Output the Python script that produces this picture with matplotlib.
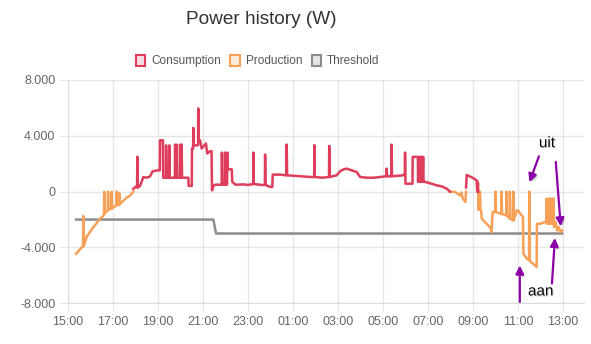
import numpy as np
import matplotlib
matplotlib.use("Agg")
import matplotlib.pyplot as plt
from matplotlib.patches import Patch
import matplotlib.patheffects as pe
from matplotlib.ticker import FixedLocator

plt.rcParams['font.family'] = ['Liberation Sans', 'DejaVu Sans']

# ---- data (time in hours; values >24 are the next day) ----
cons_t = [17.90, 18.02, 18.07, 18.08, 18.10, 18.20, 18.35, 18.47, 18.64, 18.76, 19.00, 19.08,
          19.09, 19.22, 19.23, 19.35, 19.36, 19.38, 19.49, 19.50, 19.52, 19.75, 19.76, 19.78,
          19.82, 19.83, 19.85, 19.97, 19.98, 20.00, 20.04, 20.05, 20.07, 20.35, 20.36, 20.50,
          20.51, 20.56, 20.57, 20.59, 20.68, 20.78, 20.79, 20.81, 20.87, 20.94, 21.13, 21.19,
          21.31, 21.38, 21.40, 21.46, 21.55, 21.83, 21.84, 21.86, 21.97, 21.98, 22.00, 22.07,
          22.08, 22.10, 22.28, 22.30, 22.45, 22.80, 23.00, 23.23, 23.24, 23.26, 23.60, 23.75,
          23.76, 23.78, 23.98, 24.08, 24.10, 24.42, 24.70, 24.72, 24.74, 25.20, 25.76, 25.94,
          25.95, 25.97, 26.30, 26.60, 26.61, 26.63, 26.94, 27.09, 27.25, 27.39, 27.60, 27.83,
          27.98, 28.28, 28.60, 28.87, 29.14, 29.16, 29.18, 29.37, 29.38, 29.40, 29.89, 29.97,
          29.98, 30.00, 30.31, 30.32, 30.55, 30.56, 30.58, 30.60, 30.62, 30.64, 30.66, 30.68,
          30.70, 30.72, 30.74, 30.76, 30.78, 30.79, 30.80, 30.87, 31.10, 31.39, 31.60, 31.83,
          31.98,
          None,
          32.69, 32.72, 33.00, 33.16, 33.19, 33.20, 33.21, 33.22, 33.23]
cons_v = [200, 360, 300, 2500, 300, 400, 1050, 1000, 1080, 1460, 1530, 1530,
          3680, 3680, 1000, 1000, 3320, 1000, 1000, 3320, 1000, 1000, 3370, 1000,
          1000, 3370, 1000, 1000, 3370, 1000, 1000, 3370, 1000, 1000, 410, 410,
          3090, 3090, 4570, 3320, 3320, 3320, 5960, 3680, 3680, 3090, 3450, 2730,
          2900, 2900, 90, 410, 500, 500, 2800, 500, 500, 2800, 500, 500,
          2800, 1600, 1600, 700, 500, 520, 480, 550, 2800, 550, 480, 480,
          2660, 480, 340, 340, 1220, 1220, 1170, 3370, 1170, 1120, 1050, 1050,
          3330, 1050, 1000, 1050, 3280, 1050, 1170, 1460, 1600, 1650, 1530, 1410,
          1050, 1000, 1000, 1050, 1100, 1650, 1100, 1100, 3370, 1100, 1170, 1290,
          2800, 570, 570, 2490, 2490, 700, 2490, 700, 2490, 700, 2490, 700,
          2490, 700, 2490, 700, 2490, 2490, 700, 700, 600, 450, 380, 215,
          0,
          None,
          300, 1200, 980, 810, 0, 700, 0, 600, 0]

prod_t = [15.36, 15.55, 15.67, 15.68, 15.70, 15.83, 16.10, 16.40, 16.57, 16.60, 16.61, 16.63,
          16.77, 16.78, 16.80, 16.93, 16.94, 16.96, 17.15, 17.16, 17.18, 17.27, 17.28, 17.30,
          17.60, 17.75, 17.90,
          None,
          31.98, 32.20, 32.42, 32.48, 32.55, 32.66, 32.69,
          None,
          33.23, 33.25, 33.27, 33.29, 33.31, 33.33, 33.36, 33.39, 33.53, 33.76, 33.80, 33.83,
          33.87, 33.99, 34.00, 34.02, 34.26, 34.27, 34.29, 34.48, 34.49, 34.51, 34.63, 34.64,
          34.66, 34.78, 34.79, 34.81, 34.95, 35.00, 35.16, 35.22, 35.24, 35.39, 35.49, 35.50,
          35.52, 35.83, 35.84, 35.98, 36.20, 36.26, 36.27, 36.29, 36.36, 36.37, 36.40, 36.43,
          36.46, 36.49, 36.52, 36.55, 36.58, 36.60, 36.67, 36.74, 36.81, 36.89, 36.96]
prod_v = [-4450, -4100, -3900, -1750, -3900, -3230, -2600, -2000, -1720, -1650, 0, -1550,
          -1340, 0, -1300, -1220, 0, -1200, -980, 0, -980, -930, -100, -900,
          -430, -300, 0,
          None,
          0, -20, -270, -60, -500, -740, 0,
          None,
          0, -1300, 0, -1300, 0, -1340, -1340, -1940, -2180, -2540, -2700, -2900,
          -1460, -1460, 0, -1460, -1600, 0, -1600, -1700, 0, -1700, -1940, 0,
          -1940, -2060, 0, -2060, -1340, -1340, -1700, -1800, -4450, -4810, -4900, 0,
          -4950, -5400, -2300, -2300, -2180, -2180, -500, -2300, -2300, -500, -2300, -500,
          -2300, -500, -2300, -500, -500, -2540, -2180, -2780, -2540, -2900, -2780]

thr_t = [15.36, 21.46, 21.58, 36.96]
thr_v = [-2000, -2000, -3000, -3000]

xtick_hours = [15, 17, 19, 21, 23, 25, 27, 29, 31, 33, 35, 37]
xtick_labels = ["15:00", "17:00", "19:00", "21:00", "23:00", "01:00", "03:00",
                "05:00", "07:00", "09:00", "11:00", "13:00"]
ytick_vals = [-8000, -4000, 0, 4000, 8000]
ytick_labels = ["-8.000", "-4.000", "0", "4.000", "8.000"]

series_names = ["Consumption", "Production", "Threshold"]
C_CONS = "#de3d5c"
C_PROD = "#f7a057"
C_THR = "#8c8c8c"


def arr(a):
    return np.array([np.nan if v is None else v for v in a], dtype=float)


fig = plt.figure(figsize=(5.91, 3.44), dpi=100)
ax = fig.add_axes([68 / 591, 1 - 303.3 / 344, (584 - 68) / 591, (303.3 - 80) / 344])

ax.plot(arr(thr_t), arr(thr_v), color=C_THR, lw=1.8)
ax.plot(arr(prod_t), arr(prod_v), color=C_PROD, lw=1.8)
ax.plot(arr(cons_t), arr(cons_v), color=C_CONS, lw=1.8)

ax.set_xlim(15, 15 + (584 - 68) / 22.5)
ax.set_ylim(-8000, 8000)
ax.xaxis.set_major_locator(FixedLocator(xtick_hours))
ax.set_xticklabels(xtick_labels)
ax.yaxis.set_major_locator(FixedLocator(ytick_vals))
ax.set_yticklabels(ytick_labels)
grid_c = "#e6e6e6"
ax.grid(True, color=grid_c, lw=1)
ax.set_axisbelow(True)
for s in ["top", "right"]:
    ax.spines[s].set_visible(False)
for s in ["left", "bottom"]:
    ax.spines[s].set_color("#dcdcdc")
ax.tick_params(axis='both', length=6, color=grid_c, labelsize=9, labelcolor="#666666", pad=3)

fig.text(261.5 / 591, 1 - 20 / 344, "Power history (W)", ha='center', va='center',
         fontsize=13.7, color="#333333")

handles = [Patch(facecolor="#fbdde3", edgecolor=C_CONS, lw=1.5),
           Patch(facecolor="#fdecdc", edgecolor=C_PROD, lw=1.5),
           Patch(facecolor="#e6e6e6", edgecolor=C_THR, lw=1.5)]
fig.legend(handles, series_names, loc='center', bbox_to_anchor=(257.5 / 591, 1 - 61 / 344),
           ncol=3, frameon=False, fontsize=8.5, handlelength=0.8, handleheight=1.1,
           handletextpad=0.5, columnspacing=0.8, labelcolor="#555555")

# annotations
PURPLE = "#8c00a8"
shadow = [pe.withSimplePatchShadow(offset=(1.5, -1.5), shadow_rgbFace='#999999', alpha=0.5)]
aprops = dict(arrowstyle='-|>', color=PURPLE, lw=1.6, mutation_scale=12,
              shrinkA=0, shrinkB=0, path_effects=shadow)
ax.annotate("", xy=(35.51, 667), xytext=(35.93, 2533), arrowprops=aprops)
ax.annotate("", xy=(36.90, -2490), xytext=(36.68, 2124), arrowprops=aprops)
ax.annotate("", xy=(35.08, -5290), xytext=(35.08, -7900), arrowprops=aprops, annotation_clip=False)
ax.annotate("", xy=(36.64, -3315), xytext=(36.51, -6580), arrowprops=aprops)
t1 = ax.text(36.29, 3466, "uit", ha='center', va='center', fontsize=11, color='black')
t2 = ax.text(36.01, -7153, "aan", ha='center', va='center', fontsize=11, color='black')
for t in (t1, t2):
    t.set_path_effects([pe.withSimplePatchShadow(offset=(1, -1), shadow_rgbFace='#bbbbbb', alpha=0.4)])

fig.savefig("out.png", dpi=100, facecolor="white")
